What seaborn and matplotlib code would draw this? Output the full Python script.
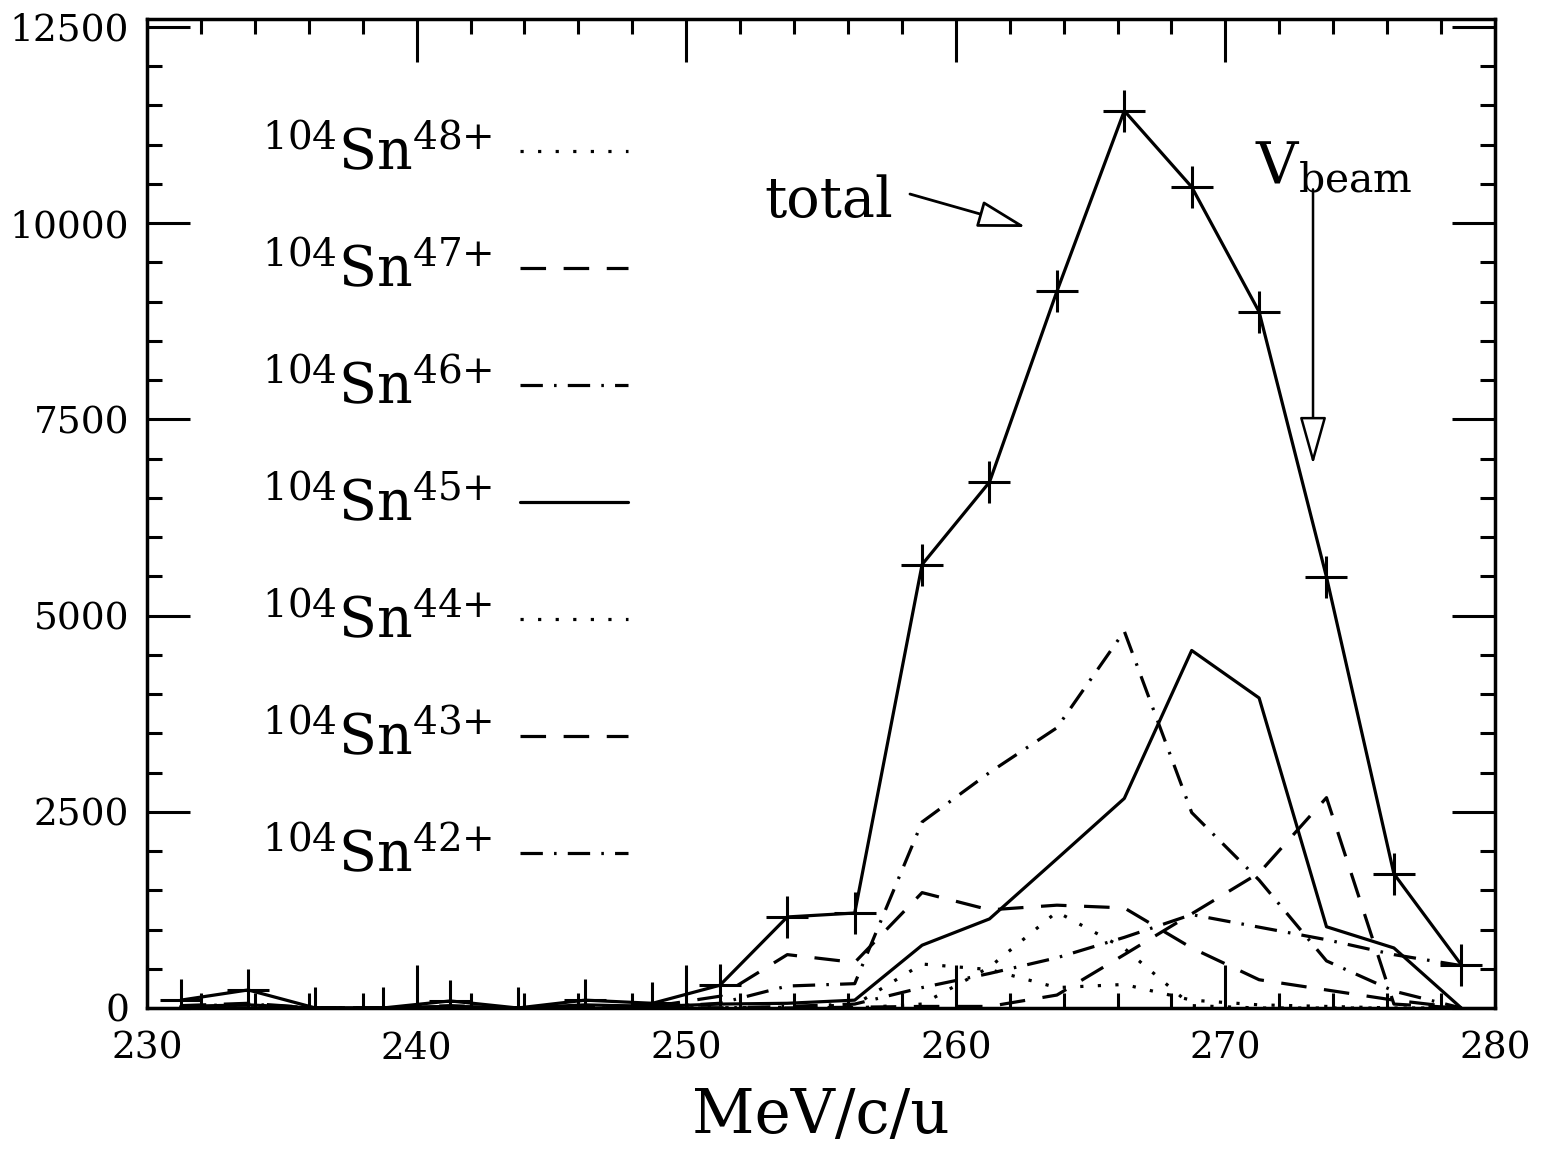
import matplotlib
matplotlib.use('Agg')
import matplotlib.pyplot as plt
from matplotlib.ticker import MultipleLocator
import pandas as pd
import seaborn as sns

# ------------------------------------------ DATA ------------------------------------------------------------#
# bin centres (MeV/c/u)
mom = [231.25, 233.75, 236.25, 238.75, 241.25, 243.75, 246.25, 248.75, 251.25, 253.75,
       256.25, 258.75, 261.25, 263.75, 266.25, 268.75, 271.25, 273.75, 276.25, 278.75]

total = [100, 230, 0, 0, 90, 0, 100, 60, 290, 1160,
         1210, 5650, 6700, 9130, 11430, 10460, 8870, 5490, 1710, 550]

sn48 = [0, 0, 0, 0, 0, 0, 0, 0, 0, 10, 40, 560, 490, 260, 300, 100, 40, 20, 0, 0]
sn47 = [30, 60, 0, 0, 30, 0, 30, 20, 150, 680, 580, 1470, 1250, 1310, 1275, 765, 360, 230, 100, 0]
sn46 = [20, 50, 0, 0, 20, 0, 20, 10, 60, 280, 310, 2370, 3000, 3570, 4800, 2490, 1630, 600, 215, 0]
sn45 = [20, 40, 0, 0, 20, 0, 40, 20, 50, 60, 100, 800, 1135, 1900, 2670, 4555, 3950, 1035, 765, 0]
sn44 = [0, 0, 0, 0, 0, 0, 0, 0, 0, 0, 0, 50, 520, 1225, 760, 30, 0, 0, 0, 0]
sn43 = [0, 0, 0, 0, 0, 0, 0, 0, 0, 0, 10, 20, 20, 165, 680, 1200, 1720, 2680, 50, 0]
sn42 = [0, 0, 0, 0, 0, 0, 0, 0, 0, 20, 50, 260, 440, 640, 900, 1190, 1030, 870, 680, 540]

charges = ['48', '47', '46', '45', '44', '43', '42']
values = [sn48, sn47, sn46, sn45, sn44, sn43, sn42]

dotted = (0, (1, 4.5))
dashed = (0, (8, 5.5))
dashdot = (0, (7, 3.5, 0.8, 3.5))
styles = [dotted, dashed, dashdot, '-', dotted, dashed, dashdot]

# ------------------------------------------ PLOT ------------------------------------------------------------#
sns.set_style('ticks')
plt.rcParams['font.family'] = ['DejaVu Serif']
plt.rcParams['mathtext.fontset'] = 'dejavuserif'
for k in ['text.color', 'axes.labelcolor', 'xtick.color', 'ytick.color', 'axes.edgecolor']:
    plt.rcParams[k] = 'black'

fig = plt.figure(figsize=(15.41, 11.5), dpi=100)
ax = fig.add_axes([147 / 1541, 1 - 1008 / 1150, (1495 - 147) / 1541, (1008 - 19) / 1150])

handles = []
for q, v, ls in zip(charges, values, styles):
    df = pd.DataFrame({'p': mom, 'n': v})
    sns.lineplot(data=df, x='p', y='n', ax=ax, color='black', lw=2.3, linestyle=ls,
                 sort=False, estimator=None, errorbar=None)
    ln = ax.get_lines()[-1]
    ln.set_label(r'$^{104}\mathrm{Sn}^{' + q + r'{+}}$')
    handles.append(ln)

df_tot = pd.DataFrame({'p': mom, 'n': total})
sns.lineplot(data=df_tot, x='p', y='n', ax=ax, color='black', lw=2.3, marker='+',
             markersize=30, markeredgewidth=2.2, markeredgecolor='black',
             sort=False, estimator=None, errorbar=None)

ax.set_xlim(230, 280)
ax.set_ylim(0, 12600)
ax.xaxis.set_major_locator(MultipleLocator(10))
ax.xaxis.set_minor_locator(MultipleLocator(2))
ax.yaxis.set_major_locator(MultipleLocator(2500))
ax.yaxis.set_minor_locator(MultipleLocator(500))
ax.tick_params(which='major', direction='in', length=31, width=2.2, top=True, right=True,
               labelsize=27, colors='black')
ax.tick_params(axis='x', which='major', pad=16)
ax.tick_params(axis='y', which='major', pad=13)
ax.tick_params(which='minor', direction='in', length=11, width=2.2, top=True, right=True)
for sp in ax.spines.values():
    sp.set_linewidth(2.5)
    sp.set_color('black')

ax.set_xlabel('MeV/c/u', fontsize=44, labelpad=14)
ax.set_ylabel('')

leg = ax.legend(handles=handles, loc='upper left', bbox_to_anchor=(0.085, 0.89),
                frameon=False, markerfirst=False, fontsize=40, handlelength=1.95,
                handletextpad=0.5, labelspacing=1.12, borderaxespad=0, borderpad=0)
for t in leg.get_texts():
    t.set_color('black')

# annotations
ax.text(252.9, 10077, 'total', fontsize=40, va='baseline', ha='left')
ax.annotate('', xy=(262.6, 9950), xytext=(258.3, 10370),
            arrowprops=dict(arrowstyle='-|>,head_length=1.0,head_width=0.28', fc='white',
                            ec='black', lw=2, mutation_scale=30, shrinkA=0, shrinkB=0))
ax.text(271.1, 10500, r'$\mathrm{V}_{\mathrm{beam}}$', fontsize=42, va='baseline', ha='left')
ax.annotate('', xy=(273.25, 6925), xytext=(273.25, 10430),
            arrowprops=dict(arrowstyle='-|>,head_length=1.0,head_width=0.28', fc='white',
                            ec='black', lw=1.8, mutation_scale=30, shrinkA=0, shrinkB=0))

plt.savefig('out.png', dpi=100)
